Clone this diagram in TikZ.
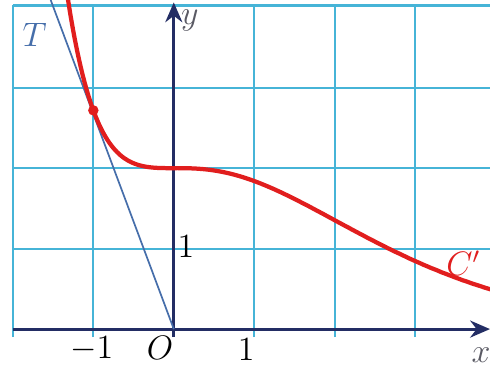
\documentclass[tikz,border=0pt]{standalone}
\usetikzlibrary{arrows.meta}
\definecolor{gridc}{RGB}{70,180,215}
\definecolor{axisc}{RGB}{35,45,100}
\definecolor{curvec}{RGB}{225,30,30}
\definecolor{tanc}{RGB}{70,110,170}
\definecolor{labc}{RGB}{90,90,100}
\tikzset{
  gridline/.style={gridc, line width=0.75pt},
  axisline/.style={axisc, line width=1.1pt, -{Stealth[length=7pt,width=6pt]}},
  curveline/.style={curvec, line width=1.5pt},
  tanline/.style={tanc, line width=0.6pt},
  lab/.style={inner sep=0pt, font=\fontsize{12}{14}\selectfont}
}
\begin{document}
\begin{tikzpicture}
\fill[white] (-2.16,-0.47) rectangle (3.93,4.09);
\useasboundingbox (-2.16,-0.47) rectangle (3.93,4.09);
% grid
\foreach \x in {-2,-1,1,2,3} \draw[gridline] (\x,-0.1) -- (\x,4.03);
\foreach \y in {1,2,3} \draw[gridline] (-2,\y) -- (3.93,\y);
\coordinate (gtl) at (-2,4.02);
\coordinate (gtr) at (3.93,4.02);
\draw[gridline, line width=1pt] (gtl) -- (gtr);
% axes
\coordinate (xs) at (-2,0);
\coordinate (xe) at (3.93,0);
\coordinate (ys) at (0,-0.1);
\coordinate (ye) at (0,4.06);
\draw[axisline] (xs) -- (xe);
\draw[axisline] (ys) -- (ye);
% tangent
\coordinate (O) at (0,0);
\coordinate (Tt) at (-1.53,4.09);
\draw[tanline] (O) -- (Tt);
% curve
\begin{scope}
\clip (-2.16,-0.47) rectangle (3.93,4.09);
\draw[curveline] plot[domain=-1.33:3.95, samples=120, smooth] (\x,{(\x*\x+2*\x+2)*exp(-\x)});
\end{scope}
\fill[curvec] (-1,2.71828) circle (0.065);
% labels
\node[lab, text=tanc] (T) at (-1.73,3.65) {$T$};
\node[lab, text=labc] (ylab) at (0.2,3.83) {$y$};
\node[lab, text=labc] (xlab) at (3.82,-0.32) {$x$};
\node[lab] (one y) at (0.15,1.03) {$1$};
\node[lab] (mone) at (-1.02,-0.25) {$-1$};
\node[lab] (Olab) at (-0.17,-0.24) {$O$};
\node[lab] (one x) at (0.9,-0.25) {$1$};
\node[lab, text=curvec] (Cp) at (3.6,0.82) {$C'$};
\end{tikzpicture}
\end{document}
